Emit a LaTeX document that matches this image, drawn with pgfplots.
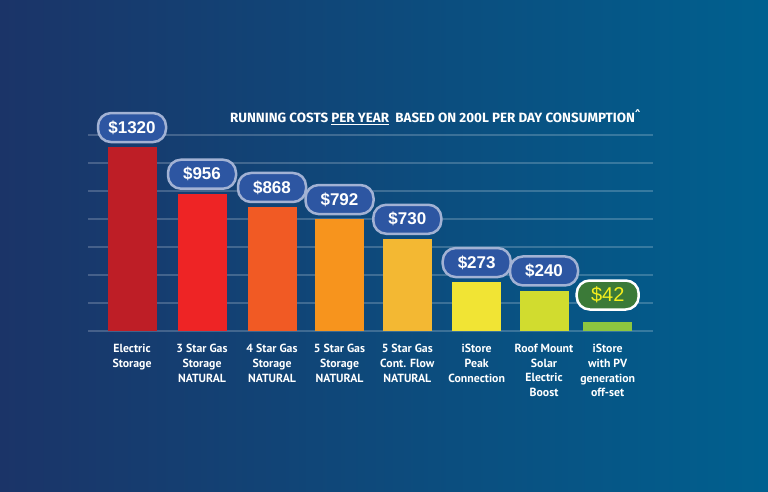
\documentclass[border=0pt]{standalone}
\usepackage{pgfplots}
\pgfplotsset{compat=1.18}
\usepackage{fontspec}
\setmainfont{Fira Sans}
\newfontfamily\valfont{Liberation Sans}
\newfontfamily\labfont{PT Sans}
\definecolor{bgl}{HTML}{1B3468}
\definecolor{bgr}{HTML}{00608F}
\definecolor{c1}{HTML}{BE1E26}
\definecolor{c2}{HTML}{EE2425}
\definecolor{c3}{HTML}{F15A24}
\definecolor{c4}{HTML}{F7941D}
\definecolor{c5}{HTML}{F3B833}
\definecolor{c6}{HTML}{F1E434}
\definecolor{c7}{HTML}{D1DC2F}
\definecolor{c8}{HTML}{8DC63F}
\definecolor{boxfill}{HTML}{2D56A2}
\definecolor{boxline}{HTML}{A2B2D4}
\definecolor{gfill}{HTML}{3B7A38}
\definecolor{gtext}{HTML}{F4EE1E}
\tikzset{valbox/.style={draw=boxline, line width=2.5pt, fill=boxfill, rounded corners=13pt, minimum height=29pt, minimum width=68pt, inner sep=0pt, text=white, font=\valfont\bfseries\fontsize{17}{17}\selectfont, anchor=south, yshift=4pt}}
\begin{document}
\begin{tikzpicture}[x=1pt,y=1pt]
\shade[left color=bgl, right color=bgr] (0,0) rectangle (768,491);
\node[anchor=west, text=white, inner sep=0pt, font=\bfseries\fontsize{13.4}{15}\selectfont] at (230,374) {RUNNING COSTS \underline{PER YEAR}\ \ BASED ON 200L PER DAY CONSUMPTION\textsuperscript{\^{}}};
\begin{axis}[
  at={(88pt,160pt)}, anchor=south west,
  scale only axis, width=565pt, height=196pt,
  xmin=88, xmax=653, ymin=0, ymax=1400,
  clip=false,
  axis line style={draw=none},
  tick style={draw=none},
  ytick={0,200,...,1400}, yticklabels={},
  ymajorgrids,
  grid style={draw=white, opacity=0.2, line width=1.5pt},
  xtick={132,202,272,339.5,407.3,476.7,544,607.7},
  xticklabels={{Electric\\Storage},{3 Star Gas\\Storage\\NATURAL},{4 Star Gas\\Storage\\NATURAL},{5 Star Gas\\Storage\\NATURAL},{5 Star Gas\\Cont. Flow\\NATURAL},{iStore\\Peak\\Connection},{Roof Mount\\Solar\\Electric\\Boost},{iStore\\with PV\\generation\\off-set}},
  xticklabel style={align=center, anchor=north, text=white, yshift=-5pt, font=\labfont\bfseries\fontsize{11.8}{14.9}\selectfont},
  ybar, bar width=49, bar shift=0pt,
  nodes near coords, point meta=explicit symbolic,
  every node near coord/.style={valbox},
]
\addplot[fill=c1, draw=none] coordinates {(132,1312) [\$1320]};
\addplot[fill=c2, draw=none] coordinates {(202,979) [\$956]};
\addplot[fill=c3, draw=none] coordinates {(272,884) [\$868]};
\addplot[fill=c4, draw=none] coordinates {(339.5,798) [\$792]};
\addplot[fill=c5, draw=none] coordinates {(407.3,657) [\$730]};
\addplot[fill=c6, draw=none] coordinates {(476.7,348) [\$273]};
\addplot[fill=c7, draw=none] coordinates {(544,288) [\$240]};
\addplot[fill=c8, draw=none, every node near coord/.style={valbox, fill=gfill, draw=white, text=gtext, minimum width=62pt, yshift=7pt, font=\valfont\fontsize{20}{20}\selectfont}] coordinates {(607.7,66) [\$42]};
\end{axis}
\end{tikzpicture}
\end{document}
